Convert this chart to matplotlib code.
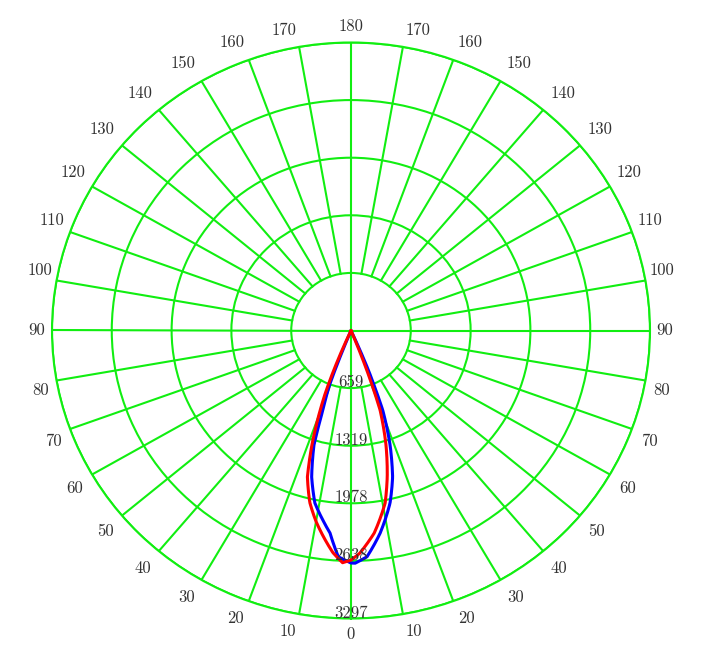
import matplotlib
matplotlib.use("Agg")
import matplotlib.pyplot as plt
import numpy as np

# ---- data ----
ring_values = [659, 1319, 1978, 2638, 3297]
ring_labels = ["659", "1319", "1978", "2638", "3297"]
angle_ticks = list(range(0, 181, 10))

# signed gamma in degrees (negative = left half of the diagram), intensity in cd
red_gamma = [-24.5, -23.5, -22.5, -21.5, -20.0, -18.2, -16.0, -13.0, -10.0, -8.0,
             -4.5, -2.0, 0.0, 2.2, 6.3, 10.8, 13.4, 16.4, 19.4, 20.4, 21.0, 22.5]
red_cd = [0, 280, 540, 780, 1050, 1380, 1744, 2020, 2220, 2340,
          2550, 2660, 2628, 2550, 2333, 2010, 1724, 1367, 965, 666, 484, 0]

blue_gamma = [-22.5, -21.3, -20.8, -18.8, -17.3, -14.5, -11.4, -8.0, -5.7, -3.1,
              0.0, 1.0, 3.9, 7.9, 12.3, 15.3, 18.2, 21.0, 22.1, 22.9, 24.5]
blue_cd = [0, 485, 667, 961, 1373, 1732, 2015, 2200, 2330, 2594,
           2662, 2664, 2596, 2341, 2021, 1739, 1380, 975, 674, 491, 0]

# ---- layout ----
W, H = 716, 663
cx, cy = 351, 330.5
rx, ry = 299, 288
GREEN = "#11ee11"
TXT = "#333333"
FONT = "cmr10"

fig = plt.figure(figsize=(W / 100, H / 100), dpi=100)
fig.patch.set_facecolor("white")
ax = fig.add_axes([(cx - rx) / W, (H - cy - ry) / H, 2 * rx / W, 2 * ry / H],
                  projection="polar")
ax.set_aspect("auto")
ax.set_theta_zero_location("S")
ax.set_theta_direction(1)
rmax = ring_values[-1]
ax.set_ylim(0, rmax)
ax.set_xticks([])
ax.set_yticks(ring_values)
ax.set_yticklabels([])
ax.tick_params(length=0)
ax.xaxis.grid(False)
ax.yaxis.grid(True, color=GREEN, lw=1.5)
ax.spines["polar"].set_color(GREEN)
ax.spines["polar"].set_linewidth(1.5)

# spokes
for d in angle_ticks[1:-1]:
    if d == 90:
        continue
    for s in (-1, 1):
        t = np.deg2rad(s * d)
        ax.plot([t, t], [ring_values[0], rmax], color=GREEN, lw=1.5, zorder=1)
for d in (0, 90, 180, 270):
    t = np.deg2rad(d)
    ax.plot([t, t], [0, rmax], color=GREEN, lw=1.5, zorder=1)

# curves (drawn in polar space so segments follow the polar geometry)
for g, v, c, z in ((blue_gamma, blue_cd, "#0000ff", 3),
                   (red_gamma, red_cd, "#ff0000", 4)):
    ln, = ax.plot(np.deg2rad(g), v, color=c, lw=2.2, zorder=z,
                  solid_joinstyle="round", solid_capstyle="round")
    ln.get_path()._interpolation_steps = 30

# ring labels
for v, lbl in zip(ring_values, ring_labels):
    ax.annotate(lbl, xy=(0, v), xytext=(0, 1), textcoords="offset pixels",
                ha="center", va="baseline", fontfamily=FONT, fontsize=12,
                color=TXT, annotation_clip=False, zorder=5)

# angle labels
for d in angle_ticks:
    sides = (1,) if d in (0, 180) else (-1, 1)
    for s in sides:
        lbl = str(d)
        phi = np.deg2rad(d)
        hw = 4.2 * len(lbl)
        dx = 15 * s * np.sin(phi)
        dy = -16 * np.cos(phi)
        if 0 < d < 180:
            dx += s * hw * abs(np.cos(phi))
        if d != 90:
            dy += (-1 if d < 90 else 1) * 7 * abs(np.sin(phi))
        ax.annotate(lbl, xy=(np.deg2rad(s * d), rmax), xytext=(dx, dy),
                    textcoords="offset pixels", ha="center", va="center",
                    fontfamily=FONT, fontsize=12, color=TXT,
                    annotation_clip=False)

fig.savefig("out.png", dpi=100, facecolor="white")
